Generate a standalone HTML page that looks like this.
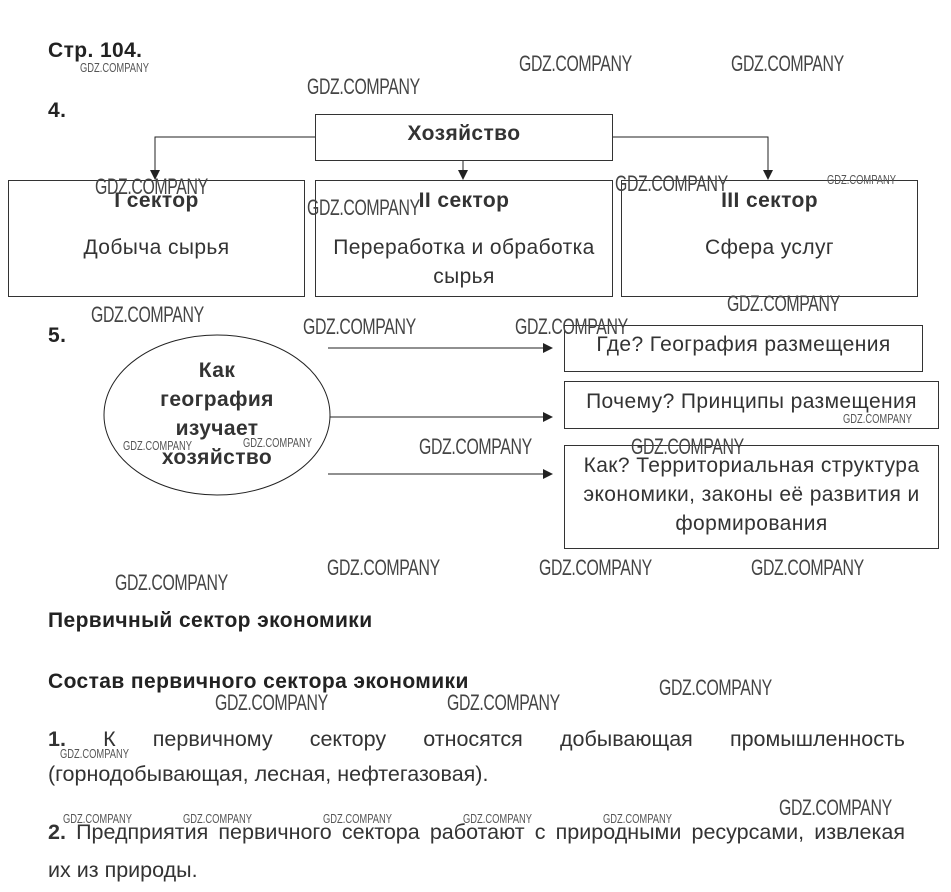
<!DOCTYPE html>
<html><head><meta charset="utf-8"><style>
body{margin:0;width:951px;height:892px;background:#fff;position:relative;overflow:hidden;font-family:"Liberation Sans",sans-serif;color:#222}
.a{position:absolute;white-space:nowrap}
.b{font-weight:bold}
.h{font-size:21px;letter-spacing:0.4px}
.box{position:absolute;border:1px solid #333;box-sizing:border-box}
.c{position:absolute;text-align:center;font-size:21px;letter-spacing:0.4px;color:#333}
.w{position:absolute;white-space:nowrap;font-size:22px;color:#444;transform:scaleX(0.72);transform-origin:0 0;letter-spacing:-0.5px}
.ws{position:absolute;white-space:nowrap;font-size:13px;color:#555;transform:scaleX(0.72);transform-origin:0 0}
.p{position:absolute;left:48px;width:857px;font-size:21.5px;color:#333;text-align:justify;text-align-last:justify}
</style></head><body>
<div class="a b h" style="left:48px;top:39px">Стр. 104.</div>
<div class="a b h" style="left:48px;top:99px">4.</div>
<div class="a b h" style="left:48px;top:324px">5.</div>

<svg width="951" height="892" style="position:absolute;left:0;top:0">
<defs><marker id="m" markerWidth="10" markerHeight="10" refX="9" refY="5" orient="auto" markerUnits="userSpaceOnUse"><path d="M0,0 L10,5 L0,10z" fill="#222"/></marker></defs>
<g stroke="#222" stroke-width="1" fill="none">
<polyline points="315,137 155,137 155,179" marker-end="url(#m)"/>
<polyline points="612,137 768,137 768,179" marker-end="url(#m)"/>
<line x1="463" y1="160" x2="463" y2="179" marker-end="url(#m)"/>
<ellipse cx="217" cy="415" rx="113" ry="80"/>
<line x1="328" y1="348" x2="552" y2="348" marker-end="url(#m)"/>
<line x1="330" y1="417" x2="552" y2="417" marker-end="url(#m)"/>
<line x1="328" y1="474" x2="552" y2="474" marker-end="url(#m)"/>
</g></svg>

<div class="box" style="left:315px;top:114px;width:298px;height:47px"></div>
<div class="c b" style="left:315px;top:122px;width:298px">Хозяйство</div>

<div class="box" style="left:8px;top:180px;width:297px;height:117px"></div>
<div class="box" style="left:315px;top:180px;width:298px;height:117px"></div>
<div class="box" style="left:621px;top:180px;width:297px;height:117px"></div>
<div class="c b" style="left:8px;top:189px;width:297px">I сектор</div>
<div class="c" style="left:8px;top:236px;width:297px">Добыча сырья</div>
<div class="c b" style="left:315px;top:189px;width:298px">II сектор</div>
<div class="c" style="left:315px;top:233px;width:298px;line-height:29px">Переработка и обработка<br>сырья</div>
<div class="c b" style="left:621px;top:189px;width:297px">III сектор</div>
<div class="c" style="left:621px;top:236px;width:297px">Сфера услуг</div>

<div class="c b" style="left:104px;top:356px;width:226px;line-height:29px">Как<br>география<br>изучает<br>хозяйство</div>

<div class="box" style="left:564px;top:325px;width:359px;height:47px"></div>
<div class="c" style="left:564px;top:333px;width:359px">Где? География размещения</div>
<div class="box" style="left:564px;top:381px;width:375px;height:48px"></div>
<div class="c" style="left:564px;top:390px;width:375px">Почему? Принципы размещения</div>
<div class="box" style="left:564px;top:445px;width:375px;height:104px"></div>
<div class="c" style="left:564px;top:451px;width:375px;line-height:29px">Как? Территориальная структура<br>экономики, законы её развития и<br>формирования</div>

<div class="a b h" style="left:48px;top:609px">Первичный сектор экономики</div>
<div class="a b h" style="left:48px;top:670px">Состав первичного сектора экономики</div>
<div class="p" style="top:727px"><b>1.</b> К первичному сектору относятся добывающая промышленность</div>
<div class="a" style="left:48px;top:762px;font-size:21.5px;color:#333">(горнодобывающая, лесная, нефтегазовая).</div>
<div class="p" style="top:820px"><b>2.</b> Предприятия первичного сектора работают с природными ресурсами, извлекая</div>
<div class="a" style="left:48px;top:858px;font-size:21.5px;color:#333">их из природы.</div>

<div class="ws" style="left:80px;top:60px">GDZ.COMPANY</div>
<div class="w" style="left:307px;top:74px">GDZ.COMPANY</div>
<div class="w" style="left:519px;top:51px">GDZ.COMPANY</div>
<div class="w" style="left:731px;top:51px">GDZ.COMPANY</div>
<div class="w" style="left:95px;top:174px">GDZ.COMPANY</div>
<div class="w" style="left:307px;top:195px">GDZ.COMPANY</div>
<div class="w" style="left:615px;top:171px">GDZ.COMPANY</div>
<div class="ws" style="left:827px;top:172px">GDZ.COMPANY</div>
<div class="w" style="left:91px;top:302px">GDZ.COMPANY</div>
<div class="w" style="left:727px;top:291px">GDZ.COMPANY</div>
<div class="w" style="left:303px;top:314px">GDZ.COMPANY</div>
<div class="w" style="left:515px;top:314px">GDZ.COMPANY</div>
<div class="ws" style="left:843px;top:411px">GDZ.COMPANY</div>
<div class="ws" style="left:123px;top:438px">GDZ.COMPANY</div>
<div class="ws" style="left:243px;top:435px">GDZ.COMPANY</div>
<div class="w" style="left:419px;top:434px">GDZ.COMPANY</div>
<div class="w" style="left:631px;top:434px">GDZ.COMPANY</div>
<div class="w" style="left:115px;top:570px">GDZ.COMPANY</div>
<div class="w" style="left:327px;top:555px">GDZ.COMPANY</div>
<div class="w" style="left:539px;top:555px">GDZ.COMPANY</div>
<div class="w" style="left:751px;top:555px">GDZ.COMPANY</div>
<div class="w" style="left:659px;top:675px">GDZ.COMPANY</div>
<div class="w" style="left:215px;top:690px">GDZ.COMPANY</div>
<div class="w" style="left:447px;top:690px">GDZ.COMPANY</div>
<div class="ws" style="left:60px;top:746px">GDZ.COMPANY</div>
<div class="w" style="left:779px;top:795px">GDZ.COMPANY</div>
<div class="ws" style="left:63px;top:811px">GDZ.COMPANY</div>
<div class="ws" style="left:183px;top:811px">GDZ.COMPANY</div>
<div class="ws" style="left:323px;top:811px">GDZ.COMPANY</div>
<div class="ws" style="left:463px;top:811px">GDZ.COMPANY</div>
<div class="ws" style="left:603px;top:811px">GDZ.COMPANY</div>
</body></html>
